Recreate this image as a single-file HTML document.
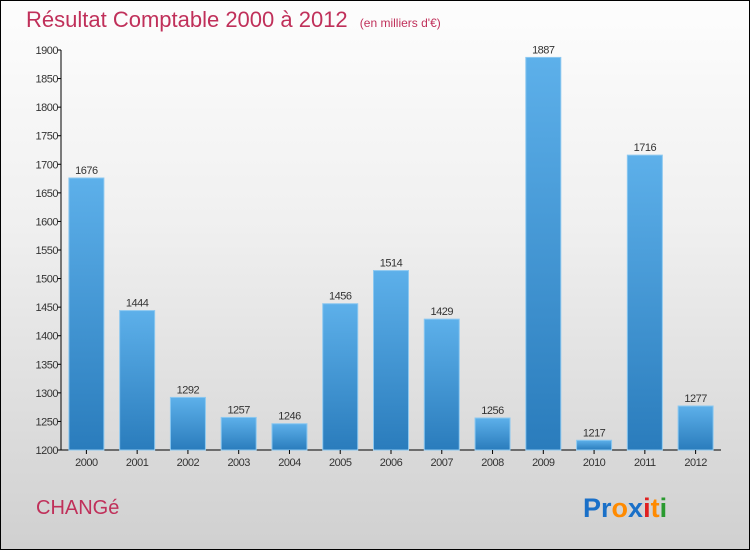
<!DOCTYPE html>
<html><head><meta charset="utf-8"><style>
body{margin:0}
#wrap{position:relative;width:748px;height:548px;border:1px solid #000;background:linear-gradient(#fdfdfd,#f0f0f0 40%,#d0d0d0);overflow:hidden;font-family:"Liberation Sans",sans-serif}
</style></head><body>
<div id="wrap">
<svg id="chart" width="748" height="548">
<text x="25" y="26" font-size="22" fill="#c0305a">Résultat Comptable 2000 à 2012 <tspan font-size="12" dx="6">(en milliers d'€)</tspan></text>
<text x="35" y="513" font-size="20" fill="#c0305a">CHANGé</text>
<g font-size="27" font-weight="bold">
<text x="582" y="516"><tspan fill="#1a70c8">Pr</tspan><tspan fill="#ff8a00">o</tspan><tspan fill="#1a70c8">x</tspan><tspan fill="#e02020">i</tspan><tspan fill="#ff8a00">t</tspan><tspan fill="#2a9a30">i</tspan></text>
</g>
<defs><linearGradient id="bg" x1="0" y1="0" x2="0" y2="1"><stop offset="0" stop-color="#5db0ea"/><stop offset="1" stop-color="#2a7cbc"/></linearGradient></defs>
</svg>
</div>
<script>
const categories=["2000","2001","2002","2003","2004","2005","2006","2007","2008","2009","2010","2011","2012"];
const values=[1676,1444,1292,1257,1246,1456,1514,1429,1256,1887,1217,1716,1277];
const ticks=[1200,1250,1300,1350,1400,1450,1500,1550,1600,1650,1700,1750,1800,1850,1900];
const svg=document.getElementById('chart');
const NS='http://www.w3.org/2000/svg';
const x0=60,x1=720,yb=449,yt=49,vmin=1200,vmax=1900;
const y=v=>yb-(v-vmin)/(vmax-vmin)*(yb-yt);
const step=(x1-x0)/categories.length;
const xc=i=>x0+step*(i+0.5);
function mk(t,a){const e=document.createElementNS(NS,t);for(const k in a)e.setAttribute(k,a[k]);svg.appendChild(e);return e;}
let ax=mk('line',{x1:x0,y1:yt,x2:x0,y2:yb,stroke:'#000'});


let bx=mk('line',{x1:x0,y1:yb,x2:x1,y2:yb,stroke:'#000'});


ticks.forEach(t=>{
 let l=mk('line',{x1:x0-4,y1:y(t),x2:x0,y2:y(t),stroke:'#000'});
 
 
 let tx=mk('text',{x:x0-3,y:y(t)+4,'font-size':11,fill:'#333','text-anchor':'end','letter-spacing':'-0.5'});
 tx.textContent=t;
 
 
});
categories.forEach((c,i)=>{
 const v=values[i],w=35;
 let r=mk('rect',{x:xc(i)-w/2,y:y(v),width:w,height:yb-y(v),fill:'url(#bg)',stroke:'#8cc8f0','stroke-width':1});
 
 
 let l=mk('text',{x:xc(i),y:y(v)-4,'font-size':11,fill:'#333','text-anchor':'middle','letter-spacing':'-0.5'});
 l.textContent=v;
 
 
 let tk=mk('line',{x1:xc(i),y1:yb,x2:xc(i),y2:yb+4,stroke:'#000'});
 
 
 let xl=mk('text',{x:xc(i),y:yb+16,'font-size':11,fill:'#333','text-anchor':'middle','letter-spacing':'-0.5'});
 xl.textContent=c;
 
 
});
</script>
</body></html>
